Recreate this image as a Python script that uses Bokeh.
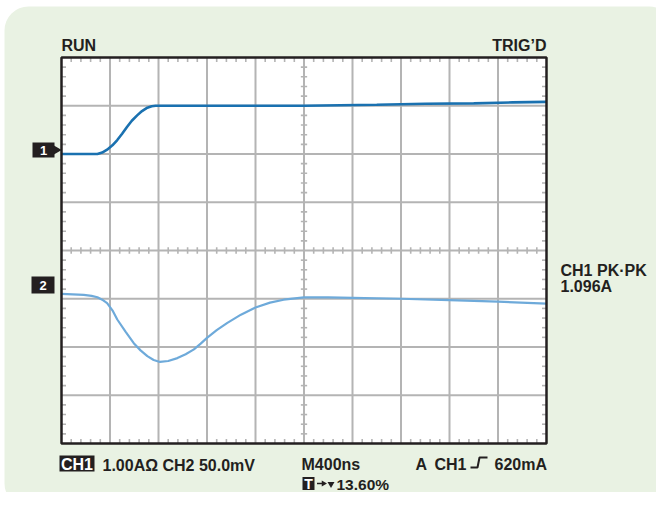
from bokeh.plotting import figure
from bokeh.models import Range1d, BoxAnnotation
from bokeh.core.properties import value
from bokeh.embed import file_html
from bokeh.resources import INLINE

# ---------------- data (divisions) ----------------
ch1_x = [0.0, 0.5, 0.74, 0.84, 0.94, 1.05, 1.15, 1.25, 1.35, 1.45, 1.56, 1.66, 1.77, 1.86,
         1.94, 3.0, 4.0, 5.0, 5.75, 6.5, 7.5, 8.5, 9.3, 10.0]
ch1_y = [6.0, 6.0, 6.0, 6.03, 6.09, 6.18, 6.29, 6.42, 6.56, 6.69, 6.80, 6.89, 6.96, 6.99,
         7.0, 7.0, 7.0, 7.0, 7.01, 7.02, 7.04, 7.05, 7.07, 7.08]

ch2_x = [0.0, 0.46, 0.62, 0.74, 0.84, 0.94, 1.05, 1.15, 1.32, 1.49, 1.63, 1.77, 1.90, 2.03,
         2.20, 2.39, 2.56, 2.73, 2.87, 3.0, 3.2, 3.42, 3.7, 4.0, 4.3, 4.58, 5.0, 5.5, 6.0,
         7.0, 8.0, 9.0, 10.0]
ch2_y = [3.10, 3.08, 3.06, 3.03, 2.98, 2.91, 2.76, 2.57, 2.32, 2.08, 1.93, 1.81, 1.73, 1.69,
         1.71, 1.77, 1.85, 1.95, 2.07, 2.19, 2.35, 2.50, 2.67, 2.82, 2.92, 2.98, 3.03, 3.03,
         3.02, 3.0, 2.97, 2.94, 2.90]

n_xdiv = 10
n_ydiv = 8
minor_per_div = 5

label_run = "RUN"
label_trig = "TRIG\u2019D"
label_pk = "CH1 PK\u00b7PK"
label_pk_val = "1.096A"
label_ch1_box = "CH1"
label_scale = "1.00A\u03a9 CH2 50.0mV"
label_time = "M400ns"
label_trig_a = "A"
label_trig_ch = "CH1"
label_trig_lvl = "620mA"
label_t_box = "T"
label_pos = "13.60%"
marker_1 = "1"
marker_2 = "2"

# ---------------- layout helpers (reference pixels -> divisions) ----------------
SX0, SX1 = 61.0, 546.0      # screen left/right (px)
SY0, SY1 = 57.0, 443.0      # screen top/bottom (px)
PXX = (SX1 - SX0) / n_xdiv
PXY = (SY1 - SY0) / n_ydiv
W, H = 656, 492
LIFT = 4.0                  # baseline correction for alphabetic text (px)


def X(px):
    return (px - SX0) / PXX


def Y(py):
    return n_ydiv - (py - SY0) / PXY


FONT = value("Liberation Sans")
INK = "#231f20"
GRID = "#b4b4b4"

p = figure(width=W, height=H,
           x_range=Range1d(X(0), X(W)), y_range=Range1d(Y(H), Y(0)),
           x_axis_type=None, y_axis_type=None, min_border=0,
           output_backend="svg", toolbar_location=None)
p.outline_line_color = None
p.background_fill_color = "white"
p.border_fill_color = "white"

# rounded green panel
p.add_layout(BoxAnnotation(left=X(4), right=X(673), top=Y(6), bottom=Y(507),
                           fill_color="#e9f2e3", fill_alpha=1.0, line_color=None,
                           border_radius=24, level="image"))

# screen
p.quad(left=[0], right=[n_xdiv], bottom=[0], top=[n_ydiv],
       fill_color="white", line_color=None)

# major grid
gx = list(range(1, n_xdiv))
gy = list(range(1, n_ydiv))
p.segment(x0=gx, y0=[0] * len(gx), x1=gx, y1=[n_ydiv] * len(gx),
          line_color=GRID, line_width=2)
p.segment(x0=[0] * len(gy), y0=gy, x1=[n_xdiv] * len(gy), y1=gy,
          line_color=GRID, line_width=2)

# minor ticks
mx = [k / minor_per_div for k in range(1, n_xdiv * minor_per_div) if k % minor_per_div]
my = [k / minor_per_div for k in range(1, n_ydiv * minor_per_div) if k % minor_per_div]
tlx = 4.5 / PXX
tly = 4.5 / PXY
cx = n_xdiv / 2
cy = n_ydiv / 2
tx0, ty0, tx1, ty1 = [], [], [], []
for v in mx:
    tx0 += [v, v, v]
    tx1 += [v, v, v]
    ty0 += [n_ydiv, 0, cy - tly * 0.7]
    ty1 += [n_ydiv - tly, tly, cy + tly * 0.7]
for v in my:
    ty0 += [v, v, v]
    ty1 += [v, v, v]
    tx0 += [0, n_xdiv, cx - tlx * 0.7]
    tx1 += [tlx, n_xdiv - tlx, cx + tlx * 0.7]
p.segment(x0=tx0, y0=ty0, x1=tx1, y1=ty1, line_color=GRID, line_width=1.6)

# traces
p.line(ch1_x, ch1_y, line_color="#1a71b0", line_width=2.6)
p.line(ch2_x, ch2_y, line_color="#6eaada", line_width=2.2)

# screen border
p.quad(left=[0], right=[n_xdiv], bottom=[0], top=[n_ydiv],
       fill_color=None, line_color=INK, line_width=2.5)


def txt(px, py, s, size="16px", align="left", color=INK, baseline="alphabetic"):
    if baseline == "alphabetic":
        py = py - LIFT
    p.text(x=[X(px)], y=[Y(py)], text=[s], text_font=FONT, text_font_style="bold",
           text_font_size=size, text_align=align, text_baseline=baseline,
           text_color=color)


def box(px0, px1, py0, py1):
    p.rect(x=[X((px0 + px1) / 2)], y=[Y((py0 + py1) / 2)],
           width=px1 - px0, height=py1 - py0,
           width_units="screen", height_units="screen",
           fill_color=INK, line_color=None)


# header labels
txt(61, 48.5, label_run)
txt(546, 49, label_trig, align="right")
txt(560, 274, label_pk)
txt(560, 290, label_pk_val)

# channel markers
box(32, 54, 142, 157)
p.scatter(x=[X(56)], y=[Y(149.5)], marker="triangle", angle=-1.5708,
          size=9, fill_color=INK, line_color=None)
txt(43, 149.5, marker_1, size="13px", align="center", color="white", baseline="middle")
box(31, 54, 276, 293)
txt(42.5, 284.5, marker_2, size="13px", align="center", color="white", baseline="middle")

# status line
box(59, 94, 455, 471)
txt(76.5, 463.5, label_ch1_box, size="16px", align="center", color="white", baseline="middle")
txt(102, 468.5, label_scale)
txt(301, 468, label_time)
txt(415, 468, label_trig_a)
txt(434, 468, label_trig_ch)
p.line(x=[X(470), X(477), X(479), X(487)], y=[Y(467), Y(467), Y(457), Y(457)],
       line_color=INK, line_width=2)
txt(494, 468, label_trig_lvl)

box(302, 314, 476.5, 489.5)
txt(308, 483, label_t_box, size="14px", align="center", color="white", baseline="middle")
# small arrow and trigger-position pointer
p.segment(x0=[X(316.5)], y0=[Y(483)], x1=[X(322)], y1=[Y(483)], line_color=INK, line_width=1.5)
p.scatter(x=[X(323)], y=[Y(483)], marker="triangle", angle=-1.5708,
          size=6, fill_color=INK, line_color=None)
p.scatter(x=[X(330.5)], y=[Y(483.5)], marker="inverted_triangle",
          size=7, fill_color=INK, line_color=None)
txt(336, 487.5, label_pos, size="15.5px")

open("out.html", "w").write(file_html(p, INLINE))
